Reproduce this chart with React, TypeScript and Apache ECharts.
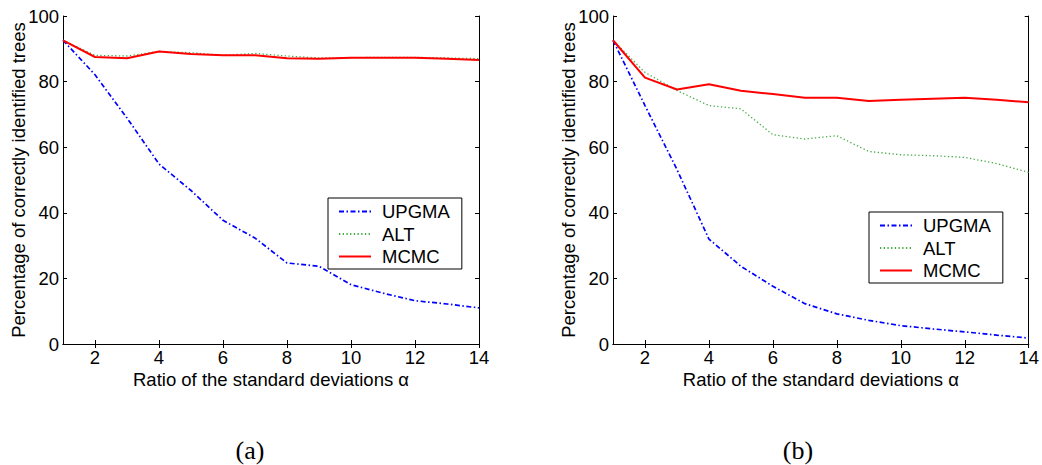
import React, { useEffect, useRef } from "react";
import * as echarts from "echarts";

const xs = [1, 2, 3, 4, 5, 6, 7, 8, 9, 10, 11, 12, 13, 14];
const xTicks = [2, 4, 6, 8, 10, 12, 14];

// Panel (a)
const upgmaA = [92.6, 82.1, 68.9, 54.9, 46.8, 37.7, 32.3, 24.7, 23.7, 18.1, 15.5, 13.2, 12.2, 11.0];
const altA = [92.6, 88.0, 87.8, 89.2, 88.8, 88.0, 88.6, 87.8, 87.2, 87.3, 87.4, 87.4, 87.2, 87.0];
const mcmcA = [92.6, 87.5, 87.1, 89.2, 88.4, 88.0, 88.0, 87.1, 87.0, 87.3, 87.3, 87.3, 87.0, 86.6];

// Panel (b)
const upgmaB = [92.6, 72.7, 53.2, 32.0, 23.7, 17.6, 12.3, 9.2, 7.2, 5.6, 4.6, 3.7, 2.7, 1.8];
const altB = [92.6, 82.8, 77.3, 72.7, 71.7, 63.8, 62.5, 63.5, 58.7, 57.7, 57.4, 56.9, 55.0, 52.3];
const mcmcB = [92.6, 81.2, 77.6, 79.2, 77.2, 76.2, 75.1, 75.1, 74.1, 74.5, 74.8, 75.1, 74.5, 73.7];

const seriesNames = ["UPGMA", "ALT", "MCMC"];
const xName = "Ratio of the standard deviations α";
const yName = "Percentage of correctly identified trees";
const captions = ["(a)", "(b)"];

const FONT = "'Liberation Sans', Arial, Helvetica, sans-serif";
const FS = 18.5;

const styles: Record<string, any> = {
  UPGMA: { color: "#0000ff", width: 1.7, type: [5, 2.5, 1.5, 2.5] },
  ALT: { color: "#44aa44", width: 1.3, type: [1.3, 2.4] },
  MCMC: { color: "#ff0000", width: 2, type: "solid" },
};

export default function App() {
  const ref = useRef<HTMLDivElement>(null);
  useEffect(() => {
    if (!ref.current) return;
    const chart = echarts.init(ref.current, null, { renderer: "svg" });
    const grids = [
      { left: 63, top: 16, width: 416, height: 328 },
      { left: 613, top: 16, width: 416, height: 328 },
    ];
    const xAxis: any[] = [];
    const yAxis: any[] = [];
    grids.forEach((_, gi) => {
      xAxis.push({
        type: "value",
        gridIndex: gi,
        position: "bottom",
        min: 1,
        max: 14,
        name: xName,
        nameLocation: "middle",
        nameGap: 27,
        nameMoveOverlap: false,
        nameTextStyle: { fontSize: FS, lineHeight: 16, fontFamily: FONT, color: "#000" },
        axisLine: { show: true, lineStyle: { color: "#000", width: 1 } },
        axisTick: { show: true, inside: true, length: 4, customValues: xTicks, lineStyle: { color: "#000" } },
        axisLabel: { show: true, customValues: xTicks, fontSize: FS, lineHeight: 16, fontFamily: FONT, color: "#000", margin: 5 },
        splitLine: { show: false },
      });
      xAxis.push({
        type: "value",
        gridIndex: gi,
        position: "top",
        min: 1,
        max: 14,
        axisLine: { show: true, lineStyle: { color: "#000", width: 1 } },
        axisTick: { show: true, inside: true, length: 4, customValues: xTicks, lineStyle: { color: "#000" } },
        axisLabel: { show: false },
        splitLine: { show: false },
      });
      yAxis.push({
        type: "value",
        gridIndex: gi,
        position: "left",
        min: 0,
        max: 100,
        interval: 20,
        name: yName,
        nameLocation: "middle",
        nameGap: 35,
        nameMoveOverlap: false,
        nameTextStyle: { fontSize: FS, fontFamily: FONT, color: "#000" },
        axisLine: { show: true, lineStyle: { color: "#000", width: 1 } },
        axisTick: { show: true, inside: true, length: 4, lineStyle: { color: "#000" } },
        axisLabel: { show: true, fontSize: FS, fontFamily: FONT, color: "#000", margin: 4 },
        splitLine: { show: false },
      });
      yAxis.push({
        type: "value",
        gridIndex: gi,
        position: "right",
        min: 0,
        max: 100,
        interval: 20,
        axisLine: { show: true, lineStyle: { color: "#000", width: 1 } },
        axisTick: { show: true, inside: true, length: 4, lineStyle: { color: "#000" } },
        axisLabel: { show: false },
        splitLine: { show: false },
      });
    });

    const panelData = [
      [upgmaA, altA, mcmcA],
      [upgmaB, altB, mcmcB],
    ];
    const series: any[] = [];
    panelData.forEach((arrs, gi) => {
      arrs.forEach((vals, si) => {
        const name = seriesNames[si];
        const st = styles[name];
        series.push({
          type: "line",
          name,
          xAxisIndex: gi * 2,
          yAxisIndex: gi * 2,
          data: xs.map((x, i) => [x, vals[i]]),
          showSymbol: false,
          symbol: "none",
          smooth: false,
          itemStyle: { color: st.color },
          lineStyle: { color: st.color, width: st.width, type: st.type },
          z: 2 + si,
        });
      });
    });

    const legendBase = {
      orient: "vertical",
      padding: [4, 12, 3, 10],
      itemWidth: 32,
      itemHeight: 14,
      itemGap: 3.5,
      borderColor: "#000",
      borderWidth: 1,
      backgroundColor: "#fff",
      data: seriesNames,
      itemStyle: { color: "rgba(0,0,0,0)", borderWidth: 0, opacity: 0 },
      textStyle: { fontSize: FS, lineHeight: 18, fontFamily: FONT, color: "#000", padding: [0, 0, 0, 6] },
    };

    const capStyle = {
      fontSize: 26,
      fontFamily: "'Liberation Serif', 'Times New Roman', serif",
      fill: "#000",
      align: "center",
      verticalAlign: "middle",
    };

    chart.setOption({
      animation: false,
      backgroundColor: "#fff",
      grid: grids,
      xAxis,
      yAxis,
      series,
      legend: [
        { ...legendBase, left: 328, top: 198 },
        { ...legendBase, left: 869, top: 212 },
      ],
      graphic: [
        { type: "text", x: 250, y: 450, style: { ...capStyle, text: captions[0] } },
        { type: "text", x: 798, y: 450, style: { ...capStyle, text: captions[1] } },
      ],
    });
    return () => chart.dispose();
  }, []);
  return (
    <div
      ref={ref}
      style={{ position: "absolute", left: 0, top: 0, width: 1042, height: 465, background: "#fff" }}
    />
  );
}
